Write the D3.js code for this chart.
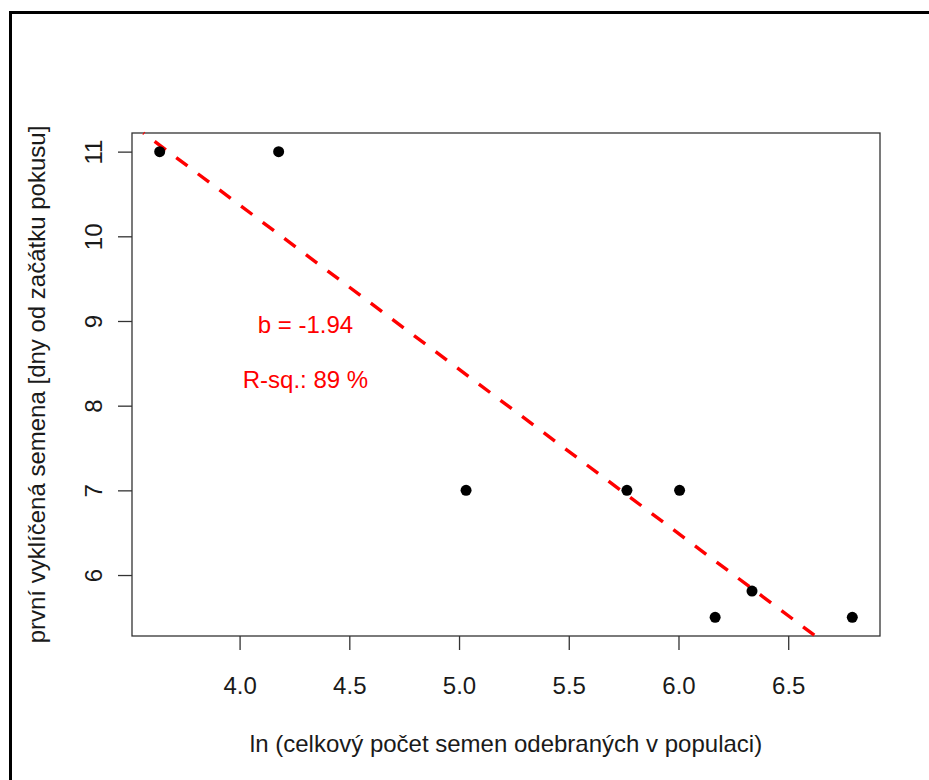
<!DOCTYPE html>
<html>
<head>
<meta charset="utf-8">
<script src="https://cdn.jsdelivr.net/npm/d3@7"></script>
<style>
  html, body { margin: 0; padding: 0; background: #fff; }
  svg { display: block; }
  text { font-family: "Liberation Sans", Arial, sans-serif; }
</style>
</head>
<body>
<svg id="chart" width="929" height="780"></svg>
<script>
// ---- data ----
const xValues = [3.636, 4.178, 5.032, 5.765, 6.005, 6.167, 6.335, 6.792];
const yValues = [11, 11, 7, 7, 7, 5.5, 5.81, 5.5];
const xTicks = [4.0, 4.5, 5.0, 5.5, 6.0, 6.5];
const yTicks = [6, 7, 8, 9, 10, 11];
const slope = -1.94;
const intercept = 18.13;
const annotations = ["b = -1.94", "R-sq.: 89 %"];
const annotationX = [4.3, 4.3];
const annotationY = [9, 8.35];
const xTitle = "ln (celkový počet semen odebraných v populaci)";
const yTitle = "první vyklíčená semena [dny od začátku pokusu]";

// ---- layout ----
const svg = d3.select("#chart");
const plot = { left: 132, right: 880, top: 133, bottom: 636 };

// R-style 4% extended ranges
const xr = d3.extent(xValues), yr = d3.extent(yValues);
const xPad = (xr[1] - xr[0]) * 0.04, yPad = (yr[1] - yr[0]) * 0.04;
const x = d3.scaleLinear().domain([xr[0] - xPad, xr[1] + xPad]).range([plot.left, plot.right]);
const y = d3.scaleLinear().domain([yr[0] - yPad, yr[1] + yPad]).range([plot.bottom, plot.top]);

// outer frame (only left and top edges visible)
svg.append("rect")
  .attr("x", 10.5).attr("y", 12.5)
  .attr("width", 2000).attr("height", 2000)
  .attr("fill", "none").attr("stroke", "#000").attr("stroke-width", 3);

// x axis
const xAxis = d3.axisBottom(x).tickValues(xTicks).tickFormat(d3.format(".1f")).tickSize(14).tickSizeOuter(0);
const gx = svg.append("g").attr("transform", `translate(0,${plot.bottom})`).call(xAxis);
gx.select(".domain").remove();
gx.selectAll("line").attr("stroke", "#333").attr("stroke-width", 1.3);
gx.selectAll("text")
  .attr("y", 58).attr("dy", null)
  .attr("font-size", 24).attr("fill", "#1a1a1a")
  .attr("font-family", "Liberation Sans, Arial, sans-serif");

// y axis
const yAxis = d3.axisLeft(y).tickValues(yTicks).tickFormat(d3.format("d")).tickSize(14).tickSizeOuter(0);
const gy = svg.append("g").attr("transform", `translate(${plot.left},0)`).call(yAxis);
gy.select(".domain").remove();
gy.selectAll("line").attr("stroke", "#333").attr("stroke-width", 1.3);
gy.selectAll(".tick text")
  .attr("x", null).attr("dy", null)
  .attr("transform", "translate(-30,0) rotate(-90)")
  .attr("text-anchor", "middle")
  .attr("font-size", 24).attr("fill", "#1a1a1a")
  .attr("font-family", "Liberation Sans, Arial, sans-serif");

// plot box
svg.append("rect")
  .attr("x", plot.left).attr("y", plot.top)
  .attr("width", plot.right - plot.left).attr("height", plot.bottom - plot.top)
  .attr("fill", "none").attr("stroke", "#333").attr("stroke-width", 1.3);

// regression line clipped to plot region (computed intersections)
const [dx0, dx1] = x.domain(), [dy0, dy1] = y.domain();
const f = v => intercept + slope * v;
const g = v => (v - intercept) / slope;
let xa = Math.max(dx0, Math.min(g(dy1), g(dy0)));
let xb = Math.min(dx1, Math.max(g(dy1), g(dy0)));
const regLine = [[xa, f(xa)], [xb, f(xb)]];
svg.append("path")
  .datum(regLine)
  .attr("d", d3.line().x(d => x(d[0])).y(d => y(d[1])))
  .attr("fill", "none").attr("stroke", "#ff0000")
  .attr("stroke-width", 3.4)
  .attr("stroke-dasharray", "14 13")
  .attr("stroke-dashoffset", 13);

// points
svg.append("g").selectAll("circle")
  .data(xValues.map((v, i) => [v, yValues[i]]))
  .join("circle")
  .attr("cx", d => x(d[0])).attr("cy", d => y(d[1]))
  .attr("r", 5.5).attr("fill", "#000");

// annotations
svg.append("g").selectAll("text")
  .data(annotations)
  .join("text")
  .attr("x", (d, i) => x(annotationX[i]))
  .attr("y", (d, i) => y(annotationY[i]) + 12)
  .attr("text-anchor", "middle")
  .attr("font-size", 24).attr("fill", "#ff0000")
  .text(d => d);

// axis titles
svg.append("text")
  .attr("x", (plot.left + plot.right) / 2).attr("y", 752)
  .attr("text-anchor", "middle").attr("font-size", 24).attr("fill", "#1a1a1a")
  .text(xTitle);
svg.append("text")
  .attr("transform", `translate(45,${(plot.top + plot.bottom) / 2}) rotate(-90)`)
  .attr("text-anchor", "middle").attr("font-size", 24).attr("fill", "#1a1a1a")
  .text(yTitle);
</script>
</body>
</html>
